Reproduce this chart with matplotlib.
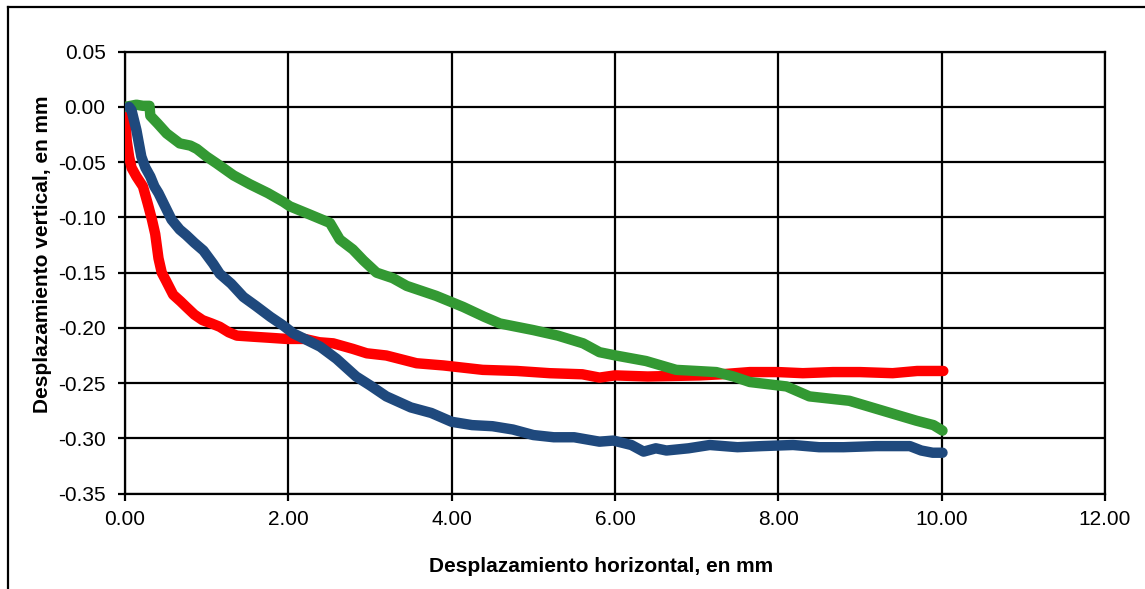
import matplotlib
matplotlib.use("Agg")
import matplotlib.pyplot as plt
from matplotlib.lines import Line2D

plt.rcParams['font.family'] = ['Liberation Sans', 'DejaVu Sans']

# Series: horizontal vs vertical displacement (mm)
red_x = [0.00, 0.01, 0.02, 0.05, 0.08, 0.14, 0.22, 0.28, 0.33, 0.37, 0.41, 0.45,
         0.50, 0.59, 0.68, 0.75, 0.85, 0.95, 1.06, 1.16, 1.27, 1.37, 1.57, 1.78,
         1.98, 2.20, 2.38, 2.55, 2.79, 2.96, 3.20, 3.57, 3.90, 4.38, 4.80, 5.20,
         5.60, 5.81, 6.00, 6.40, 7.04, 7.30, 7.65, 8.00, 8.30, 8.67, 9.00, 9.40,
         9.70, 10.02]
red_y = [0.000, -0.015, -0.030, -0.045, -0.055, -0.063, -0.072, -0.088, -0.102,
         -0.115, -0.137, -0.150, -0.157, -0.170, -0.176, -0.181, -0.188, -0.193,
         -0.196, -0.199, -0.204, -0.207, -0.208, -0.209, -0.210, -0.210, -0.213,
         -0.214, -0.219, -0.223, -0.225, -0.232, -0.234, -0.238, -0.239, -0.241,
         -0.242, -0.245, -0.243, -0.244, -0.243, -0.242, -0.240, -0.240, -0.241,
         -0.240, -0.240, -0.241, -0.239, -0.239]

blue_x = [0.05, 0.08, 0.11, 0.14, 0.17, 0.20, 0.25, 0.31, 0.36, 0.41, 0.49, 0.57,
          0.67, 0.75, 0.85, 0.96, 1.08, 1.16, 1.30, 1.45, 1.60, 1.78, 1.94, 2.06,
          2.20, 2.39, 2.59, 2.83, 3.00, 3.20, 3.50, 3.75, 4.00, 4.25, 4.50, 4.75,
          5.00, 5.25, 5.50, 5.81, 5.98, 6.20, 6.35, 6.50, 6.63, 6.90, 7.16, 7.50,
          7.80, 8.18, 8.50, 8.80, 9.20, 9.61, 9.75, 9.89, 10.01]
blue_y = [0.000, -0.003, -0.012, -0.021, -0.033, -0.045, -0.055, -0.063, -0.072,
          -0.078, -0.090, -0.102, -0.111, -0.116, -0.123, -0.130, -0.142, -0.151,
          -0.160, -0.172, -0.180, -0.190, -0.198, -0.205, -0.210, -0.217, -0.228,
          -0.244, -0.252, -0.262, -0.272, -0.277, -0.285, -0.288, -0.289, -0.292,
          -0.297, -0.299, -0.299, -0.303, -0.302, -0.306, -0.312, -0.309, -0.311,
          -0.309, -0.306, -0.308, -0.307, -0.306, -0.308, -0.308, -0.307, -0.307,
          -0.311, -0.313, -0.313]

green_x = [0.00, 0.07, 0.14, 0.22, 0.30, 0.31, 0.40, 0.51, 0.67, 0.80, 0.88, 1.00,
           1.12, 1.33, 1.53, 1.75, 1.94, 2.02, 2.25, 2.51, 2.63, 2.79, 2.92, 3.08,
           3.28, 3.45, 3.81, 4.14, 4.40, 4.59, 5.00, 5.30, 5.61, 5.81, 6.01, 6.38,
           6.75, 7.00, 7.24, 7.45, 7.65, 8.10, 8.38, 8.87, 9.28, 9.69, 9.90, 10.01]
green_y = [0.000, 0.001, 0.002, 0.001, 0.001, -0.008, -0.015, -0.024, -0.033,
           -0.035, -0.038, -0.045, -0.051, -0.062, -0.070, -0.078, -0.086, -0.090,
           -0.097, -0.105, -0.120, -0.129, -0.139, -0.150, -0.155, -0.162, -0.171,
           -0.181, -0.190, -0.196, -0.202, -0.207, -0.214, -0.222, -0.225, -0.230,
           -0.238, -0.239, -0.240, -0.244, -0.249, -0.253, -0.262, -0.266, -0.275,
           -0.284, -0.288, -0.293]

x_ticks = [0, 2, 4, 6, 8, 10, 12]
y_ticks = [0.05, 0.00, -0.05, -0.10, -0.15, -0.20, -0.25, -0.30, -0.35]

fig = plt.figure(figsize=(11.45, 5.89), dpi=100)
ax = fig.add_axes([125 / 1145, 1 - 493.6 / 589, 980 / 1145, (493.6 - 51.7) / 589])

style = dict(linewidth=7.5, solid_capstyle='round', solid_joinstyle='round')
ax.plot(red_x, red_y, color='#FF0000', zorder=3, **style)
ax.plot(green_x, green_y, color='#339933', zorder=4, **style)
ax.plot(blue_x, blue_y, color='#1F497D', zorder=5, **style)

ax.set_xlim(0, 12)
ax.set_ylim(-0.35, 0.05)
ax.set_xticks(x_ticks)
ax.set_yticks(y_ticks)
ax.set_xticklabels([f"{v:.2f}" for v in x_ticks])
ax.set_yticklabels([f"{v:.2f}" for v in y_ticks])
ax.grid(True, color='black', linewidth=1.6, zorder=1)
ax.set_axisbelow(True)
for sp in ax.spines.values():
    sp.set_linewidth(1.6)
    sp.set_color('black')
ax.tick_params(axis='both', direction='out', length=5, width=1.6,
               labelsize=15, colors='black')
ax.tick_params(axis='x', pad=7)
ax.tick_params(axis='y', pad=9)

ax.set_xlabel("Desplazamiento horizontal, en mm", fontsize=15, fontweight='bold',
              va='center')
ax.set_ylabel("Desplazamiento vertical, en mm", fontsize=15, fontweight='bold',
              va='center')
ax.xaxis.set_label_coords(0.486, -0.164)
ax.yaxis.set_label_coords(-0.0837, 0.542)

# Outer chart-area border
fig.add_artist(Line2D([8 / 1145, 8 / 1145], [0, 1 - 7 / 589], color='black',
                      linewidth=1.6, transform=fig.transFigure))
fig.add_artist(Line2D([8 / 1145, 1], [1 - 7 / 589, 1 - 7 / 589], color='black',
                      linewidth=1.6, transform=fig.transFigure))

fig.savefig("out.png", dpi=100)
